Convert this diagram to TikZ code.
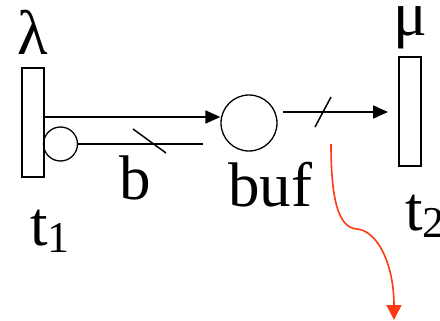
\documentclass[tikz,border=0pt]{standalone}
\usepackage{fontspec}
\newfontfamily\libser{Liberation Serif}
\usetikzlibrary{arrows.meta}
\tikzset{
  trans/.style={draw, line width=1.3pt, minimum width=22pt, minimum height=109pt, inner sep=0pt},
  place/.style={draw, circle, line width=1.3pt, inner sep=0pt},
  arc/.style={line width=1.8pt, -{Triangle[length=15pt,width=13pt]}},
  plain/.style={line width=1.8pt},
  tick/.style={line width=1.5pt},
  lbl/.style={inner sep=0pt, font=\libser\fontsize{63}{65}\selectfont},
  flow/.style={draw=redarrow, line width=1.6pt, -{Triangle[length=15pt,width=15pt]}}
}
\definecolor{redarrow}{HTML}{FF3A12}
\newcommand{\subone}[1]{\raisebox{-7pt}{\fontsize{44}{44}\selectfont #1}}
\begin{document}
\begin{tikzpicture}[x=1pt,y=-1pt]
\useasboundingbox (0,0) rectangle (440,321);
% transitions
\node[trans] (t1) at (33,122.5) {};
\node[trans] (t2) at (410,111.5) {};
% places
\node[place, minimum size=56pt] (buf) at (249,123) {};
\node[place, minimum size=34pt] (p) at (60.5,144) {};
% labels
\node[lbl, anchor=base] (lam) at (33,55) {λ};
\node[lbl, anchor=base] (mu) at (410,36) {μ};
\node[lbl, anchor=base] (lb) at (135,200) {b};
\node[lbl, anchor=base] (lbuf) at (270,207) {buf};
\node[lbl, anchor=base west] (lt1) at (30,245) {t\subone{1}};
\node[lbl, anchor=base west] (lt2) at (405,230) {t\subone{2}};
% coordinates
\coordinate (pend) at (203,144);
\coordinate (bufout) at (283,112);
\coordinate (t2in) at (388,112);
\coordinate (rs) at (331,144);
\coordinate (re) at (394,320);
% arcs
\draw[arc] (t1.east |- 0,117) -- (buf.west |- 0,117);
\draw[plain] (p.east) -- (pend);
\draw[tick] (133,129) -- (166,153);
\draw[arc] (bufout) -- (t2in);
\draw[tick] (315,127) -- (331,97);
% red flow
\draw[flow] (rs) .. controls (331,205) and (340,228) .. (357,229)
  .. controls (378,231) and (394,265) .. (re);
\end{tikzpicture}
\end{document}
